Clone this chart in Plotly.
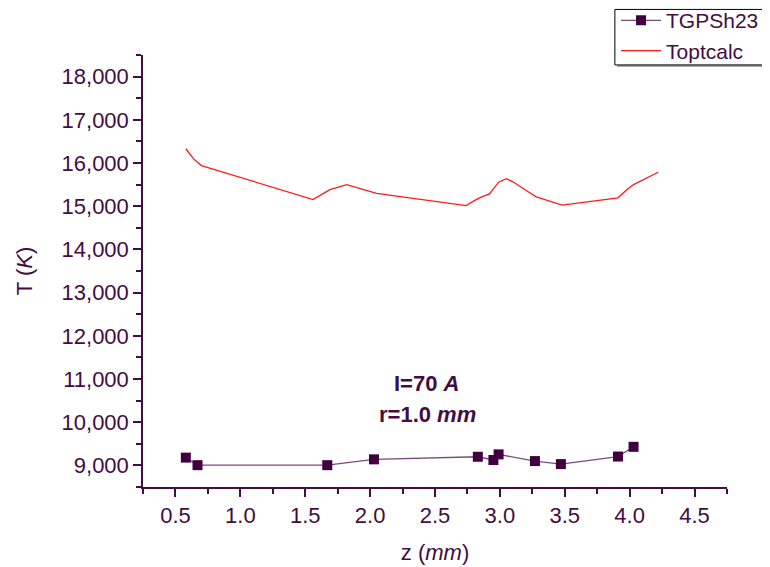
import plotly.graph_objects as go

# Data
meas_z = [0.58, 0.67, 1.67, 2.03, 2.83, 2.95, 2.99, 3.27, 3.47, 3.91, 4.03]
meas_T = [9180, 9005, 9005, 9140, 9200, 9125, 9255, 9100, 9030, 9205, 9430]

calc_z = [0.58, 0.64, 0.70, 1.56, 1.69, 1.82, 2.05, 2.74, 2.81, 2.86, 2.92, 2.99,
          3.05, 3.10, 3.23, 3.28, 3.48, 3.91, 3.98, 4.03, 4.22]
calc_T = [16330, 16095, 15940, 15155, 15385, 15500, 15295, 15015, 15140, 15215, 15285, 15555,
          15635, 15565, 15310, 15215, 15025, 15195, 15385, 15500, 15785]

x_ticks = [0.5, 1.0, 1.5, 2.0, 2.5, 3.0, 3.5, 4.0, 4.5]
y_ticks = [9000, 10000, 11000, 12000, 13000, 14000, 15000, 16000, 17000, 18000]

TXT = "#420d42"
FONT = "Liberation Sans, Arial, sans-serif"
FS = 22

fig = go.Figure()
fig.add_trace(go.Scatter(
    x=meas_z, y=meas_T, mode="lines+markers", name="TGPSh23",
    line=dict(color="#7b4a7b", width=1.3),
    marker=dict(symbol="square", size=10, color="#400040",
                line=dict(color="#400040", width=0)),
))
fig.add_trace(go.Scatter(
    x=calc_z, y=calc_T, mode="lines", name="Toptcalc",
    line=dict(color="#ff1a1a", width=1.3),
))

axis_common = dict(
    showgrid=False, zeroline=False, showline=True, linecolor=TXT, linewidth=1.5,
    ticks="outside", ticklen=8, tickwidth=1.5, tickcolor=TXT,
    tickfont=dict(family=FONT, size=FS, color=TXT),
    mirror=False,
)

fig.update_xaxes(
    range=[0.25, 4.75], tickvals=x_ticks, tickformat=".1f",
    minor=dict(ticks="outside", ticklen=5, tickwidth=1.5, tickcolor=TXT, dtick=0.25),
    title=dict(text="z (<i>mm</i>)", font=dict(family=FONT, size=FS, color=TXT), standoff=17),
    **axis_common,
)
fig.update_yaxes(
    range=[8500, 18500], tickvals=y_ticks, tickformat=",d",
    minor=dict(ticks="outside", ticklen=5, tickwidth=1.5, tickcolor=TXT, dtick=500),
    title=dict(text="T (<i>K</i>)", font=dict(family=FONT, size=FS, color=TXT), standoff=23),
    **axis_common,
)

fig.add_annotation(
    x=0.4846, y=0.2407, xref="paper", yref="paper", showarrow=False,
    xanchor="center", yanchor="middle",
    text="<b>I=70 <i>A</i></b>",
    font=dict(family=FONT, size=FS, color=TXT),
)
fig.add_annotation(
    x=0.487, y=0.1667, xref="paper", yref="paper", showarrow=False,
    xanchor="center", yanchor="middle",
    text="<b>r=1.0 <i>mm</i></b>",
    font=dict(family=FONT, size=FS, color=TXT),
)

# legend frame (with a light shadow) drawn behind the native legend
fig.add_shape(type="rect", xref="paper", yref="paper",
              x0=0.812, x1=1.2, y0=0.9725, y1=1.100,
              line=dict(width=0), fillcolor="#a8a8a8", layer="above")
fig.add_shape(type="rect", xref="paper", yref="paper",
              x0=0.808, x1=1.2, y0=0.977, y1=1.1055,
              line=dict(color="black", width=1), fillcolor="white", layer="above")

fig.update_layout(
    width=762, height=559,
    margin=dict(l=135, r=43, t=47, b=80, autoexpand=False),
    paper_bgcolor="white", plot_bgcolor="white",
    font=dict(family=FONT, size=FS, color=TXT),
    showlegend=True,
    legend=dict(
        x=0.810, y=1.127, xanchor="left", yanchor="top",
        borderwidth=0, bgcolor="rgba(0,0,0,0)",
        font=dict(family=FONT, size=21, color=TXT),
        tracegroupgap=0, itemwidth=40,
    ),
)

fig.write_html("out.html")
